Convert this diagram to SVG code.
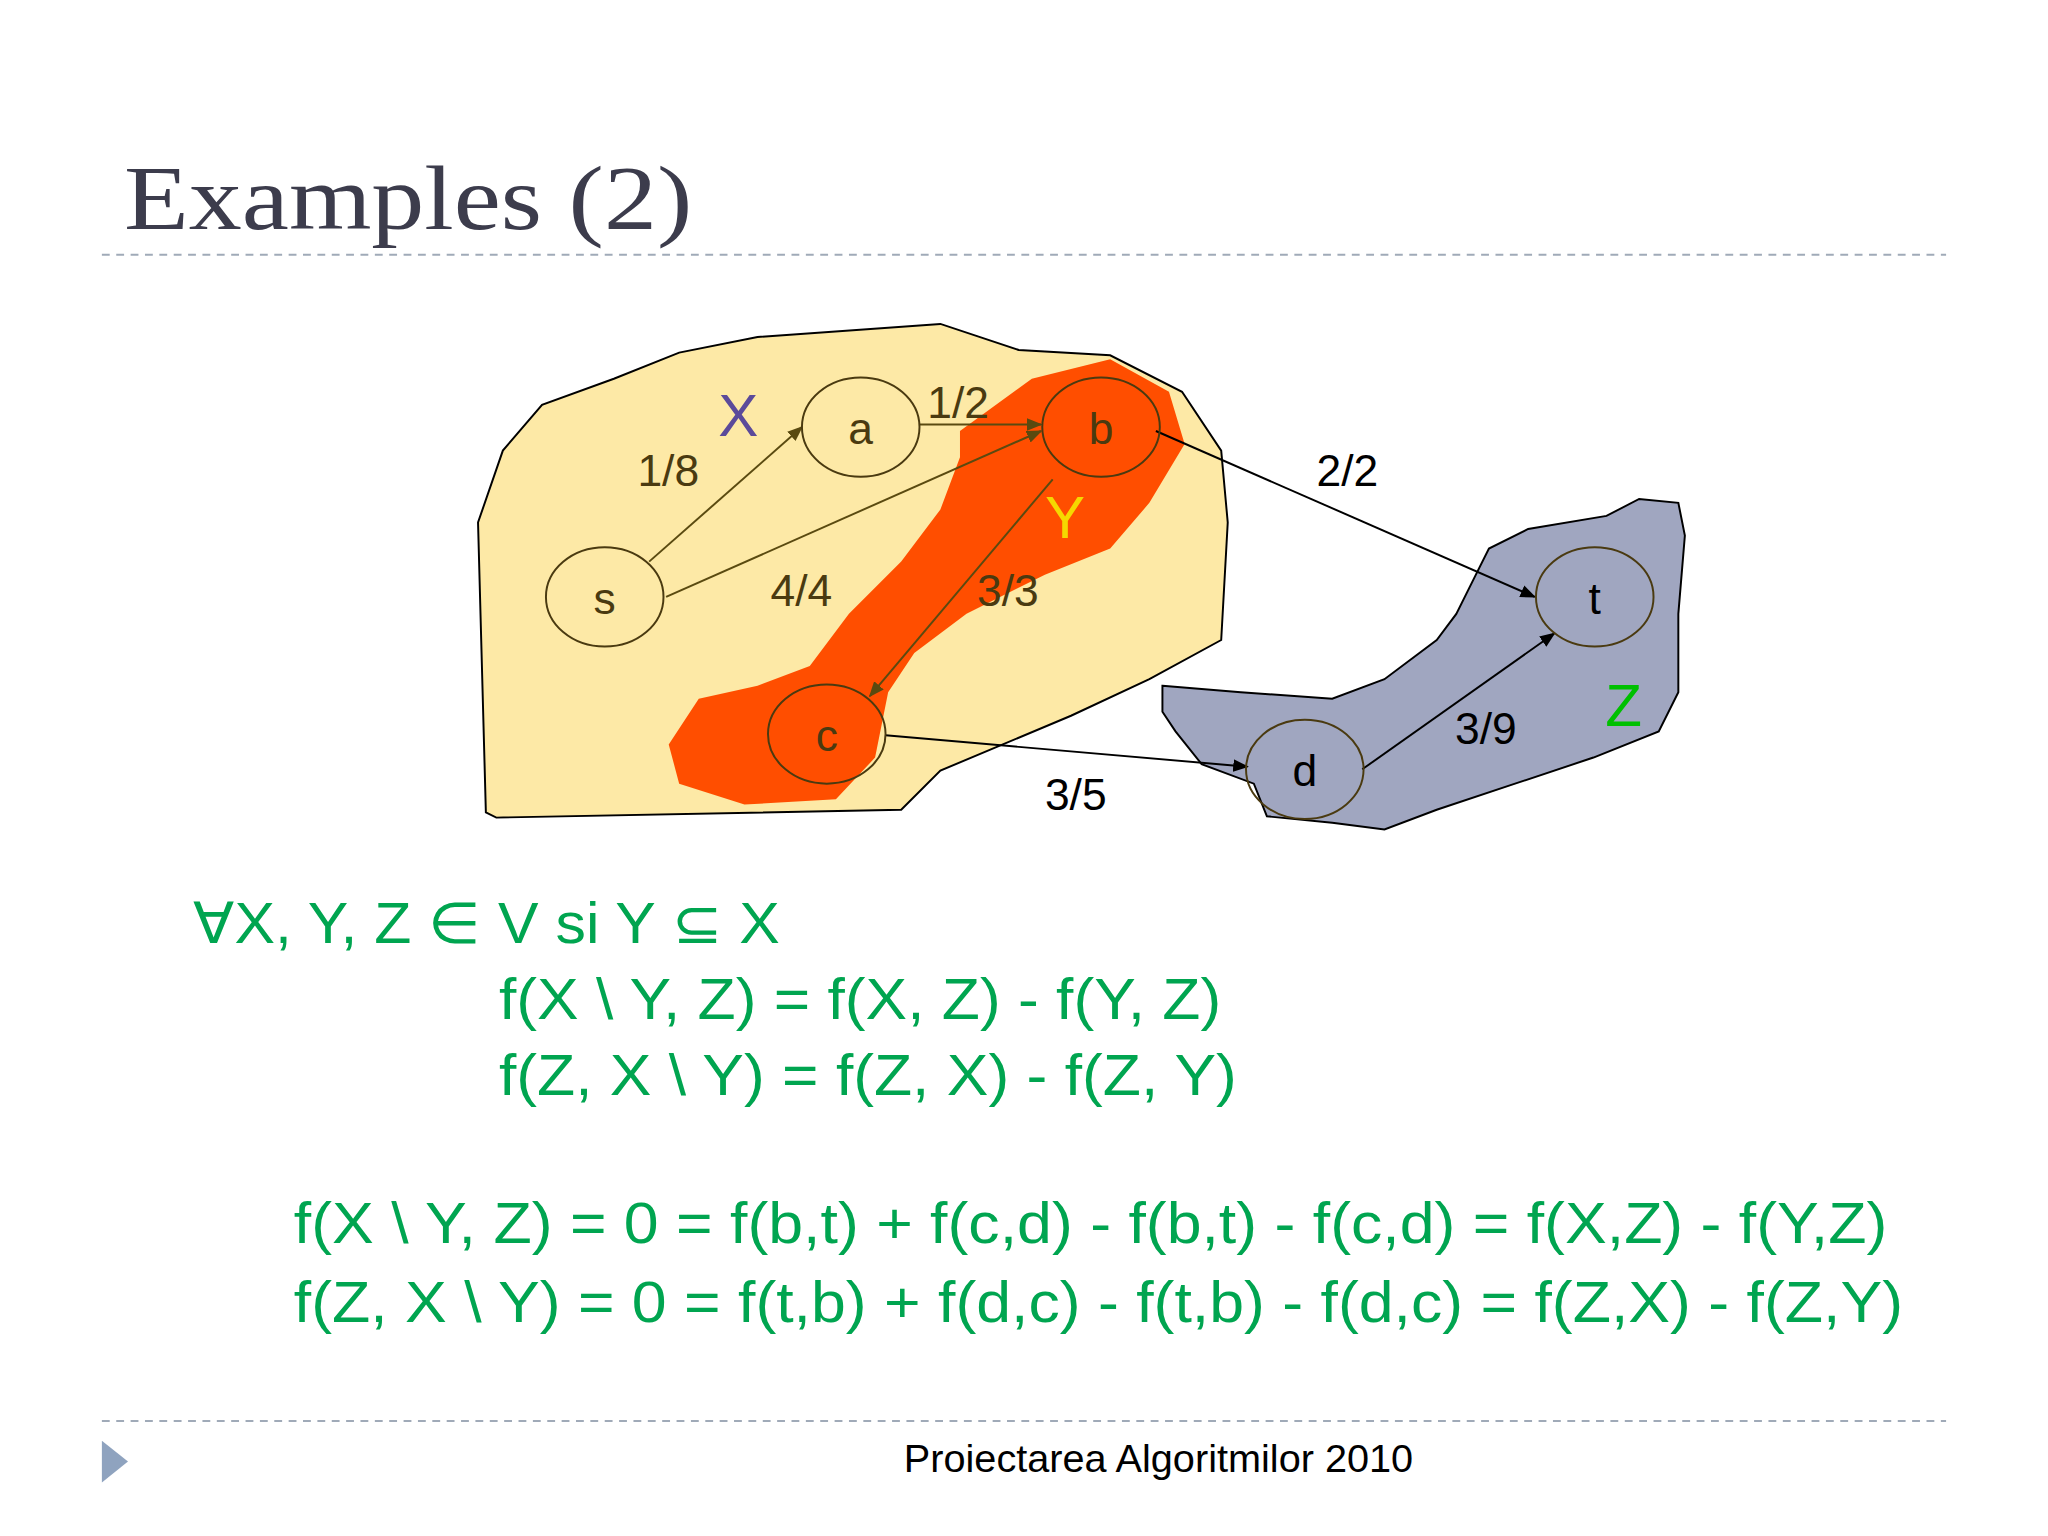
<svg xmlns="http://www.w3.org/2000/svg" width="2048" height="1536" viewBox="0 0 2048 1536">
<style>
.n{fill:none;stroke:#4a3a10;stroke-width:1.5}
.nl{font-family:"Liberation Sans",Arial,sans-serif;font-size:34px;text-anchor:middle}
.lb{font-family:"Liberation Sans",Arial,sans-serif;font-size:34px}
.eq{font-family:"Liberation Sans",Arial,sans-serif;font-size:44px;fill:#00a550}
.e1{stroke:#5a4a10;stroke-width:1.5;fill:none;marker-end:url(#ab)}
.e2{stroke:#000;stroke-width:1.5;fill:none;marker-end:url(#ak)}
</style>
<defs>
<marker id="ab" viewBox="0 0 10 10" refX="9" refY="5" markerWidth="8" markerHeight="8" orient="auto"><path d="M0,1 L10,5 L0,9 z" fill="#5a4a10"/></marker>
<marker id="ak" viewBox="0 0 10 10" refX="9" refY="5" markerWidth="8" markerHeight="8" orient="auto"><path d="M0,1 L10,5 L0,9 z" fill="#000"/></marker>
</defs>
<rect width="2048" height="1536" fill="#fff"/>
<g transform="scale(1.3061)">
<text x="95" y="175" font-family="Liberation Serif,serif" font-size="70" fill="#3c3c4c" textLength="435" lengthAdjust="spacingAndGlyphs">Examples (2)</text>
<line x1="78" y1="195" x2="1490" y2="195" stroke="#a0aab8" stroke-width="1.5" stroke-dasharray="6,5"/>
<line x1="78" y1="1088" x2="1490" y2="1088" stroke="#a0aab8" stroke-width="1.5" stroke-dasharray="6,5"/>
<polygon points="78,1103 98,1119 78,1135" fill="#8fa3bf"/>
<text x="692" y="1127" font-family="Liberation Sans,Arial,sans-serif" font-size="30" textLength="390" lengthAdjust="spacingAndGlyphs">Proiectarea Algoritmilor 2010</text>
<g id="blobX"><path d="M372,622 L366,400 L385,345 L415,310 L470,290 L520,270 L580,258 L720,248 L780,268 L850,272 L905,300 L935,345 L940,400 L935,490 L880,520 L820,548 L720,590 L690,620 L380,626 Z" fill="#fde9a6" stroke="#000" stroke-width="1.5"/></g>
<g id="blobY"><path d="M735,330 L790,290 L850,275 L895,300 L907,340 L880,385 L850,420 L800,440 L740,470 L700,500 L680,530 L670,580 L640,612 L570,616 L520,600 L512,570 L535,535 L580,525 L620,510 L650,470 L690,430 L720,390 L735,350 Z" fill="#ff4e00"/></g>
<g id="blobZ"><path d="M890,525 L950,530 L1020,535 L1060,520 L1100,490 L1115,470 L1130,440 L1140,420 L1170,405 L1230,395 L1255,382 L1285,385 L1290,410 L1285,470 L1285,530 L1270,560 L1220,580 L1160,600 L1100,620 L1060,635 L1020,630 L970,625 L960,600 L920,585 L900,560 L890,545 Z" fill="#a0a6c0" stroke="#000" stroke-width="1.5"/></g>
<g id="connectors">
<line class="e1" x1="497" y1="430" x2="614" y2="327"/>
<line class="e1" x1="510" y1="457" x2="797" y2="330"/>
<line class="e1" x1="704" y1="325" x2="797" y2="325"/>
<line class="e1" x1="806" y1="367" x2="666" y2="533"/>
<line class="e2" x1="885" y1="330" x2="1175" y2="457"/>
<line class="e2" x1="678" y1="563" x2="955" y2="587"/>
<line class="e2" x1="1043" y1="589" x2="1190" y2="485"/>
</g>
<g id="s"><ellipse class="n" cx="463" cy="457" rx="45" ry="38"/><text class="nl" x="463" y="470" fill="#4a3a10">s</text></g>
<g id="a"><ellipse class="n" cx="659" cy="327" rx="45" ry="38"/><text class="nl" x="659" y="340" fill="#4a3a10">a</text></g>
<g id="b"><ellipse class="n" cx="843" cy="327" rx="45" ry="38"/><text class="nl" x="843" y="340" fill="#4a3a10">b</text></g>
<g id="c"><ellipse class="n" cx="633" cy="562" rx="45" ry="38"/><text class="nl" x="633" y="575" fill="#4a3a10">c</text></g>
<g id="d"><ellipse class="n" cx="999" cy="589" rx="45" ry="38" stroke="#000"/><text class="nl" x="999" y="602">d</text></g>
<g id="t"><ellipse class="n" cx="1221" cy="457" rx="45" ry="38" stroke="#000"/><text class="nl" x="1221" y="470">t</text></g>
<text class="lb" x="488" y="372" fill="#4a3a10">1/8</text>
<text class="lb" x="710" y="320" fill="#4a3a10">1/2</text>
<text class="lb" x="590" y="464" fill="#4a3a10">4/4</text>
<text class="lb" x="748" y="464" fill="#4a3a10">3/3</text>
<text class="lb" x="1008" y="372">2/2</text>
<text class="lb" x="1114" y="570">3/9</text>
<text class="lb" x="800" y="620">3/5</text>
<text x="550" y="334" font-family="Liberation Sans,Arial,sans-serif" font-size="46" fill="#5b4a9a">X</text>
<text x="800" y="412" font-family="Liberation Sans,Arial,sans-serif" font-size="46" fill="#f5d800">Y</text>
<text x="1229" y="556" font-family="Liberation Sans,Arial,sans-serif" font-size="46" fill="#00c000">Z</text>
<text class="eq" x="148" y="722" textLength="449" lengthAdjust="spacingAndGlyphs">∀X, Y, Z ∈ V si Y ⊆ X</text>
<text class="eq" x="382" y="780" textLength="553" lengthAdjust="spacingAndGlyphs">f(X \ Y, Z) = f(X, Z) - f(Y, Z)</text>
<text class="eq" x="382" y="838" textLength="565" lengthAdjust="spacingAndGlyphs">f(Z, X \ Y) = f(Z, X) - f(Z, Y)</text>
<text class="eq" x="225" y="952" textLength="1220" lengthAdjust="spacingAndGlyphs">f(X \ Y, Z) = 0 = f(b,t) + f(c,d) - f(b,t) - f(c,d) = f(X,Z) - f(Y,Z)</text>
<text class="eq" x="225" y="1012" textLength="1232" lengthAdjust="spacingAndGlyphs">f(Z, X \ Y) = 0 = f(t,b) + f(d,c) - f(t,b) - f(d,c) = f(Z,X) - f(Z,Y)</text>
</g>
</svg>
